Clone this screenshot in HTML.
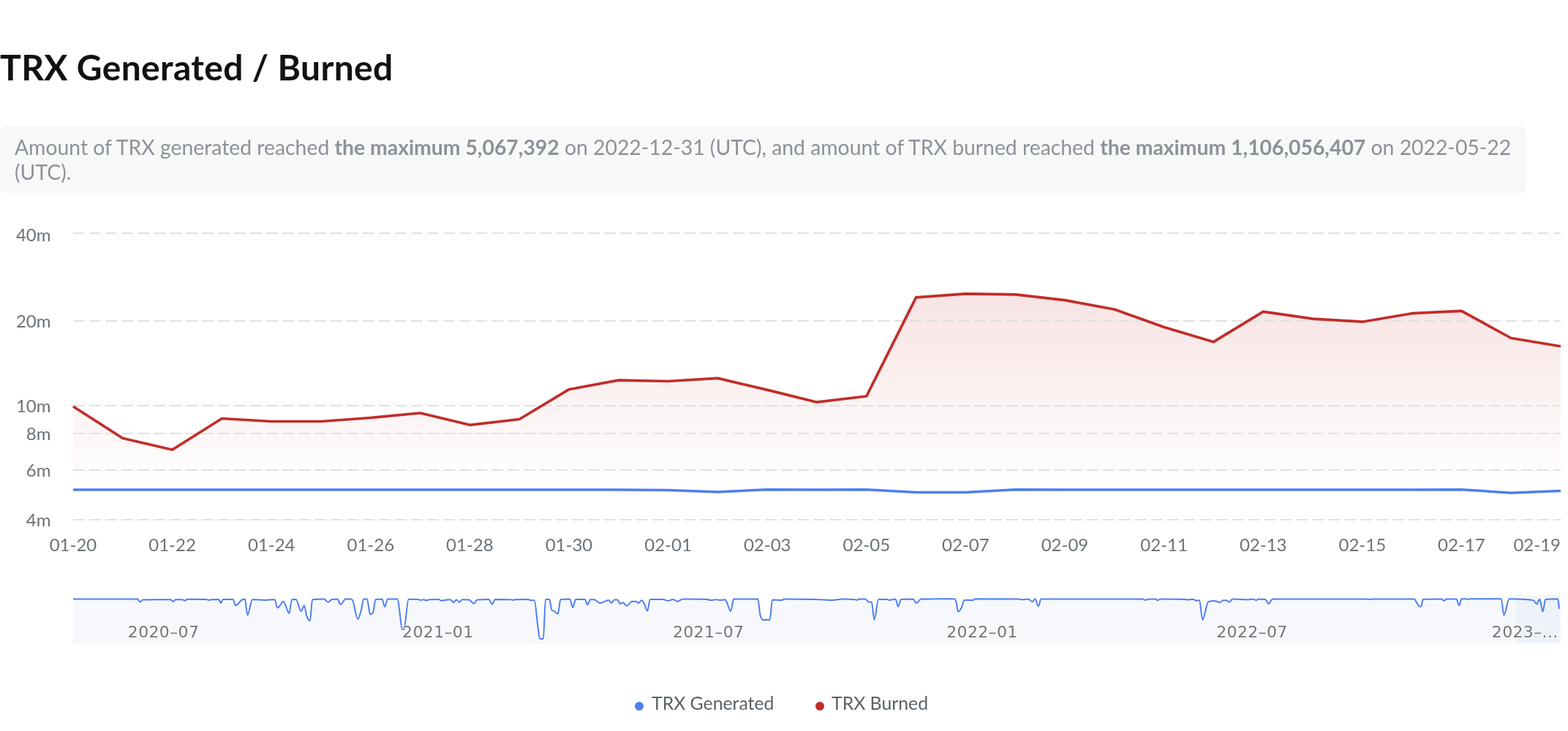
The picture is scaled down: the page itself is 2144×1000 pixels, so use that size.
<!DOCTYPE html>
<html><head><meta charset="utf-8"><title>TRX Generated / Burned</title>
<style>
html,body{margin:0;padding:0;background:#fff;}
body{width:2144px;height:1000px;position:relative;overflow:hidden;font-family:"Lato","Liberation Sans",sans-serif;}
h1{position:absolute;left:0;top:0;margin:0;font-size:48px;letter-spacing:0.33px;font-weight:700;color:#121212;line-height:1;white-space:nowrap;}
.desc{position:absolute;left:0;top:172px;width:2050px;padding:12px 16px 12px 20px;background:#f7f8f8;border-radius:8px;font-size:28.33px;line-height:34px;color:#8b9299;}
.desc b{font-weight:700;}
svg{position:absolute;left:0;top:0;}
.g{stroke:#dfe1e6;stroke-width:2;stroke-dasharray:16 6;}
.yl{font-family:"Lato","Liberation Sans",sans-serif;font-size:24px;fill:#6b7277;text-anchor:end;}
.xl{font-family:"Lato","Liberation Sans",sans-serif;font-size:24px;fill:#6b7277;text-anchor:middle;}
.ml{font-family:"DejaVu Sans","Liberation Sans",sans-serif;font-size:22px;letter-spacing:0.35px;fill:#707578;stroke:#fff;stroke-width:1.5px;paint-order:stroke;stroke-linejoin:round;}
.lg{font-family:"Lato","Liberation Sans",sans-serif;font-size:24.8px;fill:#5b6166;}
</style></head>
<body>
<h1 id="title" style="top:67.8px">TRX Generated / Burned</h1>
<div class="desc" id="desc">Amount of TRX generated reached <b>the maximum 5,067,392</b> on 2022-12-31 (UTC), and amount of TRX burned reached <b>the maximum 1,106,056,407</b> on <span style="white-space:nowrap">2022-05-22</span> (UTC).</div>
<svg width="2144" height="1000" viewBox="0 0 2144 1000">
<defs>
<linearGradient id="rg" x1="0" y1="402" x2="0" y2="672" gradientUnits="userSpaceOnUse">
<stop offset="0" stop-color="#c12d29" stop-opacity="0.13"/>
<stop offset="1" stop-color="#c12d29" stop-opacity="0.0"/>
</linearGradient>
</defs>
<path d="M100.0,670 L100.0,556.0 L167.8,599.5 L235.6,615.3 L303.4,572.5 L371.2,576.5 L439.0,576.5 L506.8,571.5 L574.6,565.0 L642.4,581.3 L710.2,573.5 L778.0,532.7 L845.8,520.1 L913.6,521.5 L981.4,517.4 L1049.2,533.4 L1117.0,550.2 L1184.8,542.0 L1252.6,406.9 L1320.4,401.9 L1388.2,402.8 L1456.0,410.6 L1523.8,423.2 L1591.6,447.4 L1659.4,467.7 L1727.2,426.3 L1795.0,436.1 L1862.8,440.2 L1930.6,428.7 L1998.4,425.4 L2066.2,462.5 L2134.0,473.8 L2134.0,671.5 L2066.2,674.2 L1998.4,669.8 L1930.6,670.0 L1862.8,670.0 L1795.0,670.0 L1727.2,670.0 L1659.4,670.0 L1591.6,670.0 L1523.8,670.0 L1456.0,670.0 L1388.2,669.8 L1320.4,673.6 L1252.6,673.6 L1184.8,669.8 L1117.0,670.0 L1049.2,669.8 L981.4,673.0 L913.6,670.4 L845.8,670.0 L778.0,670.0 L710.2,670.0 L642.4,670.0 L574.6,670.0 L506.8,670.0 L439.0,670.0 L371.2,670.0 L303.4,670.0 L235.6,670.0 L167.8,670.0 L100.0,670.0 Z" fill="url(#rg)"/>
<line x1="100" y1="319" x2="2134" y2="319" class="g"/>
<line x1="100" y1="439" x2="2134" y2="439" class="g"/>
<line x1="100" y1="555" x2="2134" y2="555" class="g"/>
<line x1="100" y1="593" x2="2134" y2="593" class="g"/>
<line x1="100" y1="643" x2="2134" y2="643" class="g"/>
<line x1="100" y1="711" x2="2134" y2="711" class="g"/>
<polyline points="100.0,556.0 167.8,599.5 235.6,615.3 303.4,572.5 371.2,576.5 439.0,576.5 506.8,571.5 574.6,565.0 642.4,581.3 710.2,573.5 778.0,532.7 845.8,520.1 913.6,521.5 981.4,517.4 1049.2,533.4 1117.0,550.2 1184.8,542.0 1252.6,406.9 1320.4,401.9 1388.2,402.8 1456.0,410.6 1523.8,423.2 1591.6,447.4 1659.4,467.7 1727.2,426.3 1795.0,436.1 1862.8,440.2 1930.6,428.7 1998.4,425.4 2066.2,462.5 2134.0,473.8" fill="none" stroke="#c12d29" stroke-width="3.7" stroke-linejoin="round"/>
<polyline points="100.0,670.0 167.8,670.0 235.6,670.0 303.4,670.0 371.2,670.0 439.0,670.0 506.8,670.0 574.6,670.0 642.4,670.0 710.2,670.0 778.0,670.0 845.8,670.0 913.6,670.4 981.4,673.0 1049.2,669.8 1117.0,670.0 1184.8,669.8 1252.6,673.6 1320.4,673.6 1388.2,669.8 1456.0,670.0 1523.8,670.0 1591.6,670.0 1659.4,670.0 1727.2,670.0 1795.0,670.0 1862.8,670.0 1930.6,670.0 1998.4,669.8 2066.2,674.2 2134.0,671.5" fill="none" stroke="#4d7ef0" stroke-width="3.5" stroke-linejoin="round"/>
<text x="69.5" y="329.5" class="yl">40m</text>
<text x="69.5" y="448" class="yl">20m</text>
<text x="69.5" y="564" class="yl">10m</text>
<text x="69.5" y="602" class="yl">8m</text>
<text x="69.5" y="652" class="yl">6m</text>
<text x="69.5" y="720" class="yl">4m</text>
<text x="100.0" y="754" class="xl">01-20</text>
<text x="235.6" y="754" class="xl">01-22</text>
<text x="371.2" y="754" class="xl">01-24</text>
<text x="506.8" y="754" class="xl">01-26</text>
<text x="642.4" y="754" class="xl">01-28</text>
<text x="778.0" y="754" class="xl">01-30</text>
<text x="913.6" y="754" class="xl">02-01</text>
<text x="1049.2" y="754" class="xl">02-03</text>
<text x="1184.8" y="754" class="xl">02-05</text>
<text x="1320.4" y="754" class="xl">02-07</text>
<text x="1456.0" y="754" class="xl">02-09</text>
<text x="1591.6" y="754" class="xl">02-11</text>
<text x="1727.2" y="754" class="xl">02-13</text>
<text x="1862.8" y="754" class="xl">02-15</text>
<text x="1998.4" y="754" class="xl">02-17</text>
<text x="2134" y="754" class="xl" style="text-anchor:end">02-19</text>
<path d="M100.00,819.50 C129.23,819.53 158.47,819.50 187.70,819.60 C189.10,819.60 190.50,823.70 191.90,823.70 C192.97,823.70 194.03,820.42 195.10,820.40 C207.87,820.22 220.63,820.20 233.40,820.20 C234.50,820.20 235.60,823.00 236.70,823.00 C237.80,823.00 238.90,820.20 240.00,820.20 C243.17,820.20 246.33,820.20 249.50,820.20 C250.57,820.20 251.63,821.80 252.70,821.80 C253.80,821.80 254.90,819.80 256.00,819.80 C264.67,819.80 273.33,819.83 282.00,820.00 C283.07,820.02 284.13,820.90 285.20,820.90 C286.13,820.90 287.07,820.52 288.00,820.40 C288.67,820.32 289.33,820.24 290.00,820.20 C292.97,820.03 295.93,819.90 298.90,819.90 C299.87,819.90 300.83,824.90 301.80,824.90 C302.83,824.90 303.87,819.90 304.90,819.90 C309.43,819.90 313.97,819.90 318.50,819.90 C319.73,819.90 320.97,828.30 322.20,828.30 C325.30,828.30 328.40,821.16 331.50,820.20 C332.60,819.86 333.70,819.50 334.80,819.50 C336.03,819.50 337.27,841.40 338.50,841.40 C340.67,841.40 342.83,820.20 345.00,820.20 C348.43,820.20 351.87,820.29 355.30,820.40 C357.80,820.48 360.30,820.90 362.80,820.90 C366.53,820.90 370.27,820.20 374.00,820.20 C374.60,820.20 375.20,820.28 375.80,820.40 C377.00,820.63 378.20,831.60 379.40,831.60 C382.10,831.60 384.80,822.70 387.50,822.70 C390.13,822.70 392.77,838.90 395.40,838.90 C396.63,838.90 397.87,820.34 399.10,820.20 C400.97,819.99 402.83,819.90 404.70,819.90 C407.03,819.90 409.37,836.10 411.70,836.10 C413.10,836.10 414.50,828.30 415.90,828.30 C417.17,828.30 418.43,841.14 419.70,843.70 C421.10,846.53 422.50,849.30 423.90,849.30 C424.97,849.30 426.03,820.30 427.10,820.20 C432.40,819.69 437.70,819.60 443.00,819.60 C444.87,819.60 446.73,823.70 448.60,823.70 C450.47,823.70 452.33,820.05 454.20,819.90 C456.67,819.70 459.13,819.60 461.60,819.60 C462.87,819.60 464.13,826.90 465.40,826.90 C467.87,826.90 470.33,819.60 472.80,819.60 C475.20,819.60 477.60,819.60 480.00,819.60 C480.63,819.60 481.27,820.26 481.90,820.90 C484.37,823.39 486.83,847.00 489.30,847.00 C490.70,847.00 492.10,840.85 493.50,836.30 C494.77,832.19 496.03,819.50 497.30,819.50 C498.83,819.50 500.37,819.50 501.90,819.50 C503.30,819.50 504.70,840.50 506.10,840.50 C507.37,840.50 508.63,839.52 509.90,838.10 C511.13,836.71 512.37,820.03 513.60,819.90 C516.53,819.60 519.47,819.50 522.40,819.50 C523.67,819.50 524.93,830.20 526.20,830.20 C527.43,830.20 528.67,819.50 529.90,819.50 C534.37,819.50 538.83,819.50 543.30,819.50 C545.67,819.50 548.03,861.00 550.40,861.00 C551.07,861.00 551.73,860.82 552.40,860.60 C554.47,859.91 556.53,819.70 558.60,819.70 C562.87,819.70 567.13,819.75 571.40,819.90 C572.63,819.94 573.87,821.00 575.10,821.00 C576.37,821.00 577.63,820.20 578.90,820.20 C580.30,820.20 581.70,821.30 583.10,821.30 C584.50,821.30 585.90,820.27 587.30,820.20 C591.63,819.99 595.97,819.90 600.30,819.90 C601.23,819.90 602.17,821.80 603.10,821.80 C604.37,821.80 605.63,821.48 606.90,821.30 C609.37,820.96 611.83,820.20 614.30,820.20 C615.23,820.20 616.17,820.51 617.10,820.90 C618.03,821.29 618.97,824.30 619.90,824.30 C621.30,824.30 622.70,820.60 624.10,820.60 C625.50,820.60 626.90,823.70 628.30,823.70 C629.57,823.70 630.83,820.20 632.10,820.20 C635.20,820.20 638.30,820.33 641.40,820.60 C643.57,820.79 645.73,825.80 647.90,825.80 C649.47,825.80 651.03,820.52 652.60,820.40 C657.87,820.01 663.13,819.90 668.40,819.90 C669.97,819.90 671.53,826.50 673.10,826.50 C674.40,826.50 675.70,819.90 677.00,819.90 C684.00,819.90 691.00,819.96 698.00,820.20 C699.10,820.24 700.20,820.90 701.30,820.90 C702.37,820.90 703.43,820.24 704.50,820.20 C710.40,819.97 716.30,819.90 722.20,819.90 C723.47,819.90 724.73,821.30 726.00,821.30 C727.53,821.30 729.07,821.10 730.60,821.10 C732.17,821.10 733.73,845.03 735.30,855.80 C736.23,862.22 737.17,874.00 738.10,874.00 C739.67,874.00 741.23,873.94 742.80,873.80 C743.87,873.70 744.93,819.90 746.00,819.90 C747.73,819.90 749.47,819.90 751.20,819.90 C752.27,819.90 753.33,833.32 754.40,834.40 C755.80,835.82 757.20,835.80 758.60,836.70 C760.00,837.60 761.40,840.00 762.80,840.00 C764.03,840.00 765.27,819.99 766.50,819.90 C770.70,819.58 774.90,819.50 779.10,819.50 C780.50,819.50 781.90,831.10 783.30,831.10 C784.57,831.10 785.83,819.90 787.10,819.90 C791.30,819.90 795.50,819.90 799.70,819.90 C800.93,819.90 802.17,827.40 803.40,827.40 C804.63,827.40 805.87,820.20 807.10,820.20 C808.97,820.20 810.83,820.20 812.70,820.20 C815.20,820.20 817.70,825.10 820.20,825.10 C824.23,825.10 828.27,821.10 832.30,821.10 C833.53,821.10 834.77,824.90 836.00,824.90 C837.27,824.90 838.53,820.40 839.80,820.40 C841.33,820.40 842.87,820.40 844.40,820.40 C845.50,820.40 846.60,825.80 847.70,825.80 C849.10,825.80 850.50,824.30 851.90,824.30 C853.60,824.30 855.30,828.80 857.00,828.80 C859.33,828.80 861.67,822.70 864.00,822.70 C865.77,822.70 867.53,822.70 869.30,822.70 C870.57,822.70 871.83,824.90 873.10,824.90 C874.50,824.90 875.90,821.30 877.30,821.30 C878.53,821.30 879.77,823.98 881.00,826.00 C882.40,828.29 883.80,835.80 885.20,835.80 C886.43,835.80 887.67,819.90 888.90,819.90 C894.80,819.90 900.70,819.90 906.60,819.90 C908.93,819.90 911.27,821.80 913.60,821.80 C915.93,821.80 918.27,819.90 920.60,819.90 C922.47,819.90 924.33,822.70 926.20,822.70 C928.70,822.70 931.20,819.60 933.70,819.60 C944.90,819.60 956.10,819.64 967.30,819.90 C968.53,819.93 969.77,821.10 971.00,821.10 C973.80,821.10 976.60,820.20 979.40,820.20 C980.97,820.20 982.53,821.10 984.10,821.10 C986.57,821.10 989.03,820.20 991.50,820.20 C992.43,820.20 993.37,823.25 994.30,825.10 C995.87,828.20 997.43,836.10 999.00,836.10 C1000.40,836.10 1001.80,819.60 1003.20,819.60 C1014.23,819.60 1025.27,819.60 1036.30,819.60 C1037.40,819.60 1038.50,838.68 1039.60,841.90 C1040.67,845.02 1041.73,847.90 1042.80,847.90 C1046.03,847.90 1049.27,847.90 1052.50,847.90 C1053.70,847.90 1054.90,820.60 1056.10,820.60 C1060.30,820.60 1064.50,821.10 1068.70,821.10 C1069.93,821.10 1071.17,819.60 1072.40,819.60 C1086.70,819.60 1101.00,819.71 1115.30,819.90 C1123.07,820.00 1130.83,820.90 1138.60,820.90 C1143.27,820.90 1147.93,819.50 1152.60,819.50 C1158.20,819.50 1163.80,819.67 1169.40,820.20 C1170.03,820.26 1170.67,820.90 1171.30,820.90 C1172.53,820.90 1173.77,819.50 1175.00,819.50 C1177.80,819.50 1180.60,819.52 1183.40,819.60 C1184.63,819.63 1185.87,822.96 1187.10,823.20 C1188.67,823.51 1190.23,823.36 1191.80,823.70 C1193.03,823.97 1194.27,847.90 1195.50,847.90 C1197.37,847.90 1199.23,819.90 1201.10,819.90 C1204.83,819.90 1208.57,819.90 1212.30,819.90 C1213.53,819.90 1214.77,821.00 1216.00,821.00 C1218.80,821.00 1221.60,819.60 1224.40,819.60 C1225.67,819.60 1226.93,829.70 1228.20,829.70 C1229.43,829.70 1230.67,819.97 1231.90,819.90 C1237.57,819.57 1243.23,819.50 1248.90,819.50 C1250.13,819.50 1251.37,825.10 1252.60,825.10 C1254.93,825.10 1257.27,819.53 1259.60,819.50 C1274.83,819.33 1290.07,819.30 1305.30,819.30 C1305.93,819.30 1306.57,820.82 1307.20,822.30 C1308.13,824.48 1309.07,836.70 1310.00,836.70 C1311.53,836.70 1313.07,834.07 1314.60,831.60 C1315.87,829.56 1317.13,820.90 1318.40,820.90 C1322.60,820.90 1326.80,820.90 1331.00,820.90 C1331.77,820.90 1332.53,819.30 1333.30,819.30 C1353.20,819.30 1373.10,819.33 1393.00,819.60 C1394.23,819.62 1395.47,820.20 1396.70,820.20 C1399.80,820.20 1402.90,819.60 1406.00,819.60 C1407.87,819.60 1409.73,823.20 1411.60,823.20 C1412.87,823.20 1414.13,819.60 1415.40,819.60 C1416.93,819.60 1418.47,829.30 1420.00,829.30 C1421.10,829.30 1422.20,819.50 1423.30,819.50 C1469.53,819.50 1515.77,819.50 1562.00,819.50 C1563.40,819.50 1564.80,820.90 1566.20,820.90 C1567.47,820.90 1568.73,819.85 1570.00,819.80 C1573.33,819.66 1576.67,819.60 1580.00,819.60 C1581.00,819.60 1582.00,821.30 1583.00,821.30 C1584.00,821.30 1585.00,819.60 1586.00,819.60 C1597.33,819.60 1608.67,819.68 1620.00,820.00 C1621.33,820.04 1622.67,820.60 1624.00,820.60 C1625.33,820.60 1626.67,820.06 1628.00,820.00 C1629.37,819.94 1630.73,819.90 1632.10,819.90 C1633.37,819.90 1634.63,821.80 1635.90,821.80 C1637.30,821.80 1638.70,821.10 1640.10,821.10 C1641.50,821.10 1642.90,847.90 1644.30,847.90 C1646.93,847.90 1649.57,823.90 1652.20,823.20 C1654.83,822.50 1657.47,822.10 1660.10,822.10 C1662.90,822.10 1665.70,823.90 1668.50,823.90 C1669.73,823.90 1670.97,821.30 1672.20,821.30 C1673.77,821.30 1675.33,821.30 1676.90,821.30 C1678.30,821.30 1679.70,823.70 1681.10,823.70 C1682.50,823.70 1683.90,819.60 1685.30,819.60 C1693.07,819.60 1700.83,820.20 1708.60,820.20 C1710.17,820.20 1711.73,819.50 1713.30,819.50 C1714.83,819.50 1716.37,821.10 1717.90,821.10 C1718.83,821.10 1719.77,819.50 1720.70,819.50 C1723.83,819.50 1726.97,819.61 1730.10,819.90 C1731.50,820.03 1732.90,826.00 1734.30,826.00 C1736.30,826.00 1738.30,819.50 1740.30,819.50 C1783.43,819.50 1826.57,819.50 1869.70,819.50 C1870.80,819.50 1871.90,820.20 1873.00,820.20 C1873.77,820.20 1874.53,819.60 1875.30,819.60 C1894.90,819.50 1914.50,819.50 1934.10,819.50 C1935.03,819.50 1935.97,822.78 1936.90,824.10 C1938.43,826.27 1939.97,829.70 1941.50,829.70 C1942.13,829.70 1942.77,829.55 1943.40,829.30 C1944.17,829.00 1944.93,819.92 1945.70,819.90 C1954.27,819.62 1962.83,819.60 1971.40,819.60 C1972.47,819.60 1973.53,821.80 1974.60,821.80 C1975.70,821.80 1976.80,819.60 1977.90,819.60 C1982.40,819.60 1986.90,819.60 1991.40,819.60 C1992.67,819.60 1993.93,828.20 1995.20,828.20 C1996.30,828.20 1997.40,819.30 1998.50,819.30 C2000.50,819.30 2002.50,819.30 2004.50,819.30 C2005.43,819.30 2006.37,820.00 2007.30,820.00 C2008.23,820.00 2009.17,819.30 2010.10,819.30 C2024.33,819.30 2038.57,819.30 2052.80,819.30 C2053.97,819.30 2055.13,841.70 2056.30,841.70 C2058.73,841.70 2061.17,819.30 2063.60,819.30 C2070.97,819.30 2078.33,819.60 2085.70,820.00 C2089.43,820.20 2093.17,820.44 2096.90,821.40 C2098.30,821.76 2099.70,826.30 2101.10,826.30 C2102.50,826.30 2103.90,819.70 2105.30,819.70 C2106.70,819.70 2108.10,836.50 2109.50,836.50 C2110.77,836.50 2112.03,820.13 2113.30,820.00 C2118.90,819.42 2124.50,819.30 2130.10,819.30 C2130.70,819.30 2131.30,828.43 2131.90,833.00 L2131.9,880 L100,880 Z" fill="#f6f8fc"/>
<rect x="2072" y="814" width="62" height="66" fill="#e3e8f5" fill-opacity="0.38"/>
<path d="M100.00,819.50 C129.23,819.53 158.47,819.50 187.70,819.60 C189.10,819.60 190.50,823.70 191.90,823.70 C192.97,823.70 194.03,820.42 195.10,820.40 C207.87,820.22 220.63,820.20 233.40,820.20 C234.50,820.20 235.60,823.00 236.70,823.00 C237.80,823.00 238.90,820.20 240.00,820.20 C243.17,820.20 246.33,820.20 249.50,820.20 C250.57,820.20 251.63,821.80 252.70,821.80 C253.80,821.80 254.90,819.80 256.00,819.80 C264.67,819.80 273.33,819.83 282.00,820.00 C283.07,820.02 284.13,820.90 285.20,820.90 C286.13,820.90 287.07,820.52 288.00,820.40 C288.67,820.32 289.33,820.24 290.00,820.20 C292.97,820.03 295.93,819.90 298.90,819.90 C299.87,819.90 300.83,824.90 301.80,824.90 C302.83,824.90 303.87,819.90 304.90,819.90 C309.43,819.90 313.97,819.90 318.50,819.90 C319.73,819.90 320.97,828.30 322.20,828.30 C325.30,828.30 328.40,821.16 331.50,820.20 C332.60,819.86 333.70,819.50 334.80,819.50 C336.03,819.50 337.27,841.40 338.50,841.40 C340.67,841.40 342.83,820.20 345.00,820.20 C348.43,820.20 351.87,820.29 355.30,820.40 C357.80,820.48 360.30,820.90 362.80,820.90 C366.53,820.90 370.27,820.20 374.00,820.20 C374.60,820.20 375.20,820.28 375.80,820.40 C377.00,820.63 378.20,831.60 379.40,831.60 C382.10,831.60 384.80,822.70 387.50,822.70 C390.13,822.70 392.77,838.90 395.40,838.90 C396.63,838.90 397.87,820.34 399.10,820.20 C400.97,819.99 402.83,819.90 404.70,819.90 C407.03,819.90 409.37,836.10 411.70,836.10 C413.10,836.10 414.50,828.30 415.90,828.30 C417.17,828.30 418.43,841.14 419.70,843.70 C421.10,846.53 422.50,849.30 423.90,849.30 C424.97,849.30 426.03,820.30 427.10,820.20 C432.40,819.69 437.70,819.60 443.00,819.60 C444.87,819.60 446.73,823.70 448.60,823.70 C450.47,823.70 452.33,820.05 454.20,819.90 C456.67,819.70 459.13,819.60 461.60,819.60 C462.87,819.60 464.13,826.90 465.40,826.90 C467.87,826.90 470.33,819.60 472.80,819.60 C475.20,819.60 477.60,819.60 480.00,819.60 C480.63,819.60 481.27,820.26 481.90,820.90 C484.37,823.39 486.83,847.00 489.30,847.00 C490.70,847.00 492.10,840.85 493.50,836.30 C494.77,832.19 496.03,819.50 497.30,819.50 C498.83,819.50 500.37,819.50 501.90,819.50 C503.30,819.50 504.70,840.50 506.10,840.50 C507.37,840.50 508.63,839.52 509.90,838.10 C511.13,836.71 512.37,820.03 513.60,819.90 C516.53,819.60 519.47,819.50 522.40,819.50 C523.67,819.50 524.93,830.20 526.20,830.20 C527.43,830.20 528.67,819.50 529.90,819.50 C534.37,819.50 538.83,819.50 543.30,819.50 C545.67,819.50 548.03,861.00 550.40,861.00 C551.07,861.00 551.73,860.82 552.40,860.60 C554.47,859.91 556.53,819.70 558.60,819.70 C562.87,819.70 567.13,819.75 571.40,819.90 C572.63,819.94 573.87,821.00 575.10,821.00 C576.37,821.00 577.63,820.20 578.90,820.20 C580.30,820.20 581.70,821.30 583.10,821.30 C584.50,821.30 585.90,820.27 587.30,820.20 C591.63,819.99 595.97,819.90 600.30,819.90 C601.23,819.90 602.17,821.80 603.10,821.80 C604.37,821.80 605.63,821.48 606.90,821.30 C609.37,820.96 611.83,820.20 614.30,820.20 C615.23,820.20 616.17,820.51 617.10,820.90 C618.03,821.29 618.97,824.30 619.90,824.30 C621.30,824.30 622.70,820.60 624.10,820.60 C625.50,820.60 626.90,823.70 628.30,823.70 C629.57,823.70 630.83,820.20 632.10,820.20 C635.20,820.20 638.30,820.33 641.40,820.60 C643.57,820.79 645.73,825.80 647.90,825.80 C649.47,825.80 651.03,820.52 652.60,820.40 C657.87,820.01 663.13,819.90 668.40,819.90 C669.97,819.90 671.53,826.50 673.10,826.50 C674.40,826.50 675.70,819.90 677.00,819.90 C684.00,819.90 691.00,819.96 698.00,820.20 C699.10,820.24 700.20,820.90 701.30,820.90 C702.37,820.90 703.43,820.24 704.50,820.20 C710.40,819.97 716.30,819.90 722.20,819.90 C723.47,819.90 724.73,821.30 726.00,821.30 C727.53,821.30 729.07,821.10 730.60,821.10 C732.17,821.10 733.73,845.03 735.30,855.80 C736.23,862.22 737.17,874.00 738.10,874.00 C739.67,874.00 741.23,873.94 742.80,873.80 C743.87,873.70 744.93,819.90 746.00,819.90 C747.73,819.90 749.47,819.90 751.20,819.90 C752.27,819.90 753.33,833.32 754.40,834.40 C755.80,835.82 757.20,835.80 758.60,836.70 C760.00,837.60 761.40,840.00 762.80,840.00 C764.03,840.00 765.27,819.99 766.50,819.90 C770.70,819.58 774.90,819.50 779.10,819.50 C780.50,819.50 781.90,831.10 783.30,831.10 C784.57,831.10 785.83,819.90 787.10,819.90 C791.30,819.90 795.50,819.90 799.70,819.90 C800.93,819.90 802.17,827.40 803.40,827.40 C804.63,827.40 805.87,820.20 807.10,820.20 C808.97,820.20 810.83,820.20 812.70,820.20 C815.20,820.20 817.70,825.10 820.20,825.10 C824.23,825.10 828.27,821.10 832.30,821.10 C833.53,821.10 834.77,824.90 836.00,824.90 C837.27,824.90 838.53,820.40 839.80,820.40 C841.33,820.40 842.87,820.40 844.40,820.40 C845.50,820.40 846.60,825.80 847.70,825.80 C849.10,825.80 850.50,824.30 851.90,824.30 C853.60,824.30 855.30,828.80 857.00,828.80 C859.33,828.80 861.67,822.70 864.00,822.70 C865.77,822.70 867.53,822.70 869.30,822.70 C870.57,822.70 871.83,824.90 873.10,824.90 C874.50,824.90 875.90,821.30 877.30,821.30 C878.53,821.30 879.77,823.98 881.00,826.00 C882.40,828.29 883.80,835.80 885.20,835.80 C886.43,835.80 887.67,819.90 888.90,819.90 C894.80,819.90 900.70,819.90 906.60,819.90 C908.93,819.90 911.27,821.80 913.60,821.80 C915.93,821.80 918.27,819.90 920.60,819.90 C922.47,819.90 924.33,822.70 926.20,822.70 C928.70,822.70 931.20,819.60 933.70,819.60 C944.90,819.60 956.10,819.64 967.30,819.90 C968.53,819.93 969.77,821.10 971.00,821.10 C973.80,821.10 976.60,820.20 979.40,820.20 C980.97,820.20 982.53,821.10 984.10,821.10 C986.57,821.10 989.03,820.20 991.50,820.20 C992.43,820.20 993.37,823.25 994.30,825.10 C995.87,828.20 997.43,836.10 999.00,836.10 C1000.40,836.10 1001.80,819.60 1003.20,819.60 C1014.23,819.60 1025.27,819.60 1036.30,819.60 C1037.40,819.60 1038.50,838.68 1039.60,841.90 C1040.67,845.02 1041.73,847.90 1042.80,847.90 C1046.03,847.90 1049.27,847.90 1052.50,847.90 C1053.70,847.90 1054.90,820.60 1056.10,820.60 C1060.30,820.60 1064.50,821.10 1068.70,821.10 C1069.93,821.10 1071.17,819.60 1072.40,819.60 C1086.70,819.60 1101.00,819.71 1115.30,819.90 C1123.07,820.00 1130.83,820.90 1138.60,820.90 C1143.27,820.90 1147.93,819.50 1152.60,819.50 C1158.20,819.50 1163.80,819.67 1169.40,820.20 C1170.03,820.26 1170.67,820.90 1171.30,820.90 C1172.53,820.90 1173.77,819.50 1175.00,819.50 C1177.80,819.50 1180.60,819.52 1183.40,819.60 C1184.63,819.63 1185.87,822.96 1187.10,823.20 C1188.67,823.51 1190.23,823.36 1191.80,823.70 C1193.03,823.97 1194.27,847.90 1195.50,847.90 C1197.37,847.90 1199.23,819.90 1201.10,819.90 C1204.83,819.90 1208.57,819.90 1212.30,819.90 C1213.53,819.90 1214.77,821.00 1216.00,821.00 C1218.80,821.00 1221.60,819.60 1224.40,819.60 C1225.67,819.60 1226.93,829.70 1228.20,829.70 C1229.43,829.70 1230.67,819.97 1231.90,819.90 C1237.57,819.57 1243.23,819.50 1248.90,819.50 C1250.13,819.50 1251.37,825.10 1252.60,825.10 C1254.93,825.10 1257.27,819.53 1259.60,819.50 C1274.83,819.33 1290.07,819.30 1305.30,819.30 C1305.93,819.30 1306.57,820.82 1307.20,822.30 C1308.13,824.48 1309.07,836.70 1310.00,836.70 C1311.53,836.70 1313.07,834.07 1314.60,831.60 C1315.87,829.56 1317.13,820.90 1318.40,820.90 C1322.60,820.90 1326.80,820.90 1331.00,820.90 C1331.77,820.90 1332.53,819.30 1333.30,819.30 C1353.20,819.30 1373.10,819.33 1393.00,819.60 C1394.23,819.62 1395.47,820.20 1396.70,820.20 C1399.80,820.20 1402.90,819.60 1406.00,819.60 C1407.87,819.60 1409.73,823.20 1411.60,823.20 C1412.87,823.20 1414.13,819.60 1415.40,819.60 C1416.93,819.60 1418.47,829.30 1420.00,829.30 C1421.10,829.30 1422.20,819.50 1423.30,819.50 C1469.53,819.50 1515.77,819.50 1562.00,819.50 C1563.40,819.50 1564.80,820.90 1566.20,820.90 C1567.47,820.90 1568.73,819.85 1570.00,819.80 C1573.33,819.66 1576.67,819.60 1580.00,819.60 C1581.00,819.60 1582.00,821.30 1583.00,821.30 C1584.00,821.30 1585.00,819.60 1586.00,819.60 C1597.33,819.60 1608.67,819.68 1620.00,820.00 C1621.33,820.04 1622.67,820.60 1624.00,820.60 C1625.33,820.60 1626.67,820.06 1628.00,820.00 C1629.37,819.94 1630.73,819.90 1632.10,819.90 C1633.37,819.90 1634.63,821.80 1635.90,821.80 C1637.30,821.80 1638.70,821.10 1640.10,821.10 C1641.50,821.10 1642.90,847.90 1644.30,847.90 C1646.93,847.90 1649.57,823.90 1652.20,823.20 C1654.83,822.50 1657.47,822.10 1660.10,822.10 C1662.90,822.10 1665.70,823.90 1668.50,823.90 C1669.73,823.90 1670.97,821.30 1672.20,821.30 C1673.77,821.30 1675.33,821.30 1676.90,821.30 C1678.30,821.30 1679.70,823.70 1681.10,823.70 C1682.50,823.70 1683.90,819.60 1685.30,819.60 C1693.07,819.60 1700.83,820.20 1708.60,820.20 C1710.17,820.20 1711.73,819.50 1713.30,819.50 C1714.83,819.50 1716.37,821.10 1717.90,821.10 C1718.83,821.10 1719.77,819.50 1720.70,819.50 C1723.83,819.50 1726.97,819.61 1730.10,819.90 C1731.50,820.03 1732.90,826.00 1734.30,826.00 C1736.30,826.00 1738.30,819.50 1740.30,819.50 C1783.43,819.50 1826.57,819.50 1869.70,819.50 C1870.80,819.50 1871.90,820.20 1873.00,820.20 C1873.77,820.20 1874.53,819.60 1875.30,819.60 C1894.90,819.50 1914.50,819.50 1934.10,819.50 C1935.03,819.50 1935.97,822.78 1936.90,824.10 C1938.43,826.27 1939.97,829.70 1941.50,829.70 C1942.13,829.70 1942.77,829.55 1943.40,829.30 C1944.17,829.00 1944.93,819.92 1945.70,819.90 C1954.27,819.62 1962.83,819.60 1971.40,819.60 C1972.47,819.60 1973.53,821.80 1974.60,821.80 C1975.70,821.80 1976.80,819.60 1977.90,819.60 C1982.40,819.60 1986.90,819.60 1991.40,819.60 C1992.67,819.60 1993.93,828.20 1995.20,828.20 C1996.30,828.20 1997.40,819.30 1998.50,819.30 C2000.50,819.30 2002.50,819.30 2004.50,819.30 C2005.43,819.30 2006.37,820.00 2007.30,820.00 C2008.23,820.00 2009.17,819.30 2010.10,819.30 C2024.33,819.30 2038.57,819.30 2052.80,819.30 C2053.97,819.30 2055.13,841.70 2056.30,841.70 C2058.73,841.70 2061.17,819.30 2063.60,819.30 C2070.97,819.30 2078.33,819.60 2085.70,820.00 C2089.43,820.20 2093.17,820.44 2096.90,821.40 C2098.30,821.76 2099.70,826.30 2101.10,826.30 C2102.50,826.30 2103.90,819.70 2105.30,819.70 C2106.70,819.70 2108.10,836.50 2109.50,836.50 C2110.77,836.50 2112.03,820.13 2113.30,820.00 C2118.90,819.42 2124.50,819.30 2130.10,819.30 C2130.70,819.30 2131.30,828.43 2131.90,833.00" fill="none" stroke="#4d7ef0" stroke-width="2" stroke-linejoin="round"/>
<text x="174.8" y="871.5" class="ml">2020–07</text>
<text x="550.1" y="871.5" class="ml">2021–01</text>
<text x="919.9" y="871.5" class="ml">2021–07</text>
<text x="1294.2" y="871.5" class="ml">2022–01</text>
<text x="1663.2" y="871.5" class="ml">2022–07</text>
<text x="2039.8" y="871.5" class="ml">2023–...</text>
<circle cx="874" cy="966" r="6" fill="#4d7ef0"/>
<text x="891" y="971" class="lg">TRX Generated</text>
<circle cx="1121" cy="966" r="6" fill="#c12d29"/>
<text x="1137" y="971" class="lg">TRX Burned</text>
</svg>
</body></html>
